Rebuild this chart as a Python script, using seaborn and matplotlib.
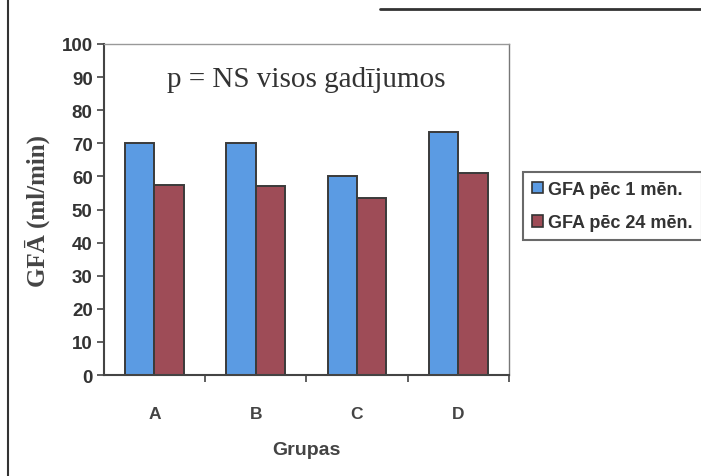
import pandas as pd
import matplotlib.pyplot as plt
import seaborn as sns
from matplotlib.lines import Line2D

# values
groups = ["A", "B", "C", "D"]
gfa_1 = [70, 70, 60, 73.5]
gfa_24 = [57.5, 57, 53.5, 61]
series = ["GFA pēc 1 mēn.", "GFA pēc 24 mēn."]

df = pd.DataFrame({
    "Grupas": groups * 2,
    "GFA": gfa_1 + gfa_24,
    "serija": [series[0]] * 4 + [series[1]] * 4,
})

sns.set_style("white")
plt.rcParams["font.family"] = ["Liberation Sans", "DejaVu Sans"]

fig = plt.figure(figsize=(7.01, 4.77), dpi=100)
ax = fig.add_axes([0.148, 0.2117, 0.578, 0.694])

sns.barplot(data=df, x="Grupas", y="GFA", hue="serija",
            palette=["#5b9be3", "#9e4c57"], saturation=1, width=0.58,
            edgecolor="#3a3a3a", linewidth=1.4, ax=ax)

ax.set_ylim(0, 100)
ax.set_xlim(-0.5, 3.5)
ax.set_yticks(range(0, 101, 10))
ax.tick_params(axis="y", length=5, width=1.2, color="#444", labelsize=13.5,
               labelcolor="#333", direction="out", left=True, pad=3)
ax.tick_params(axis="x", which="major", length=0, labelsize=12.5,
               labelcolor="#444", pad=22)
ax.set_xticks([0.5, 1.5, 2.5, 3.5], minor=True)
ax.tick_params(axis="x", which="minor", length=5, width=1.2, color="#444",
               bottom=True)
for lab in ax.get_xticklabels() + ax.get_yticklabels():
    lab.set_fontweight("bold")

for s in ["left", "bottom"]:
    ax.spines[s].set_color("#444")
    ax.spines[s].set_linewidth(1.5)
ax.spines["right"].set_color("#777")
ax.spines["right"].set_linewidth(1.0)
ax.spines["top"].set_color("#999")
ax.spines["top"].set_linewidth(1.0)
ax.spines["top"].set_linestyle((0, (2, 1)))

ax.set_xlabel("Grupas", fontsize=14, fontweight="bold", color="#444",
              labelpad=15)
ax.set_ylabel("GFĀ (ml/min)", fontsize=18, fontweight="bold", color="#444",
              family=["Liberation Serif", "DejaVu Serif"], labelpad=8)

ax.text(1.5, 89.5, "p = NS visos gadījumos", ha="center", va="center",
        fontsize=21, color="#333", family=["Liberation Serif", "DejaVu Serif"])

leg = ax.legend(loc="upper left", bbox_to_anchor=(523 / 701, 1 - 173 / 477),
                bbox_transform=fig.transFigure, frameon=True, fancybox=False,
                handlelength=0.6, handleheight=0.6, handletextpad=0.3,
                labelspacing=0.9, borderpad=0.5, borderaxespad=0,
                prop={"weight": "bold", "size": 13})
leg.get_frame().set_edgecolor("#444")
leg.get_frame().set_linewidth(1.5)
for t in leg.get_texts():
    t.set_color("#333")
for h in leg.legend_handles:
    h.set_edgecolor("#333")
    h.set_linewidth(1.2)

# scan frame lines
fig.add_artist(Line2D([8 / 701, 8 / 701], [0, 1], color="#333", lw=1.5))
fig.add_artist(Line2D([380 / 701, 1], [1 - 10 / 477] * 2, color="#333", lw=2))

fig.savefig("out.png", dpi=100)
